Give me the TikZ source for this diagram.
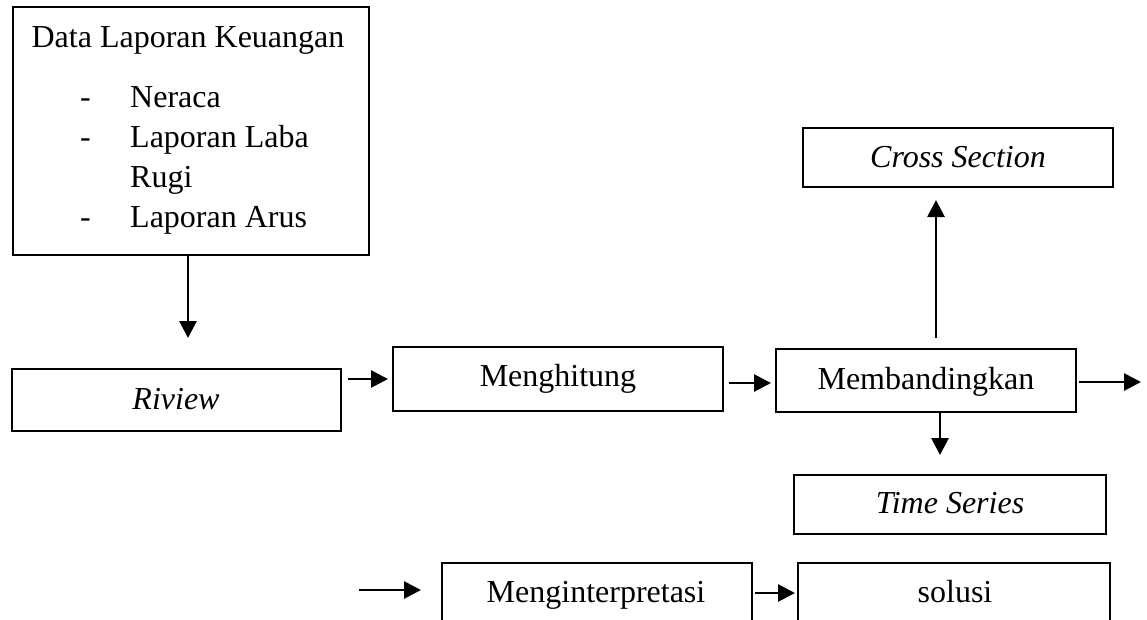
\documentclass[tikz,border=0pt]{standalone}
\usepackage{fontspec}
\setmainfont{Liberation Serif}
\usetikzlibrary{arrows.meta}
\tikzset{
  box/.style={draw, line width=2.2pt, rectangle, inner sep=0pt, outer sep=0pt},
  txt/.style={anchor=base, inner sep=0pt, font=\fontsize{32pt}{36pt}\selectfont},
  itxt/.style={txt, font=\fontsize{32pt}{36pt}\selectfont\itshape},
  ltxt/.style={txt, anchor=base west},
  arr/.style={line width=2.8pt, -{Triangle[length=17pt,width=17pt]}},
}
\begin{document}
\begin{tikzpicture}[x=1pt,y=-1pt]
\useasboundingbox (0,0) rectangle (1147,619);
\clip (0,0) rectangle (1147,619);
% top box
\node[box, minimum width=356pt, minimum height=248pt] (data) at (191,131) {};
\node[txt] (datatitle) at (188,47) {Data Laporan Keuangan};
\node[ltxt] (d1) at (80,107.5) {-};
\node[ltxt] (i1) at (130,107.5) {Neraca};
\node[ltxt] (d2) at (80,147) {-};
\node[ltxt] (i2) at (130,147) {Laporan Laba};
\node[ltxt] (i2b) at (130,187) {Rugi};
\node[ltxt] (d3) at (80,227) {-};
\node[ltxt] (i3) at (130,227) {Laporan Arus};
% boxes
\node[box, minimum width=329pt, minimum height=62pt] (riview) at (176.5,400) {};
\node[itxt] (riviewt) at (176,409) {Riview};
\node[box, minimum width=330pt, minimum height=64pt] (menghitung) at (558,379) {};
\node[txt] (menghitungt) at (558,386) {Menghitung};
\node[box, minimum width=300pt, minimum height=63pt] (membandingkan) at (926,380.5) {};
\node[txt] (membandingkant) at (926,389) {Membandingkan};
\node[box, minimum width=310pt, minimum height=59pt] (cross) at (958,157.5) {};
\node[itxt] (crosst) at (958,167) {Cross Section};
\node[box, minimum width=312pt, minimum height=59pt] (time) at (950,504.5) {};
\node[itxt] (timet) at (950,513) {Time Series};
\node[box, minimum width=310pt, minimum height=140pt] (interp) at (597,633) {};
\node[txt] (interpt) at (596,602) {Menginterpretasi};
\node[box, minimum width=312pt, minimum height=140pt] (solusi) at (954,633) {};
\node[txt] (solusit) at (955,602) {solusi};
% coordinates for free ends
\coordinate (dataend) at (188,338);
\coordinate (y383) at (0,383);
\coordinate (outend) at (1141,382);
\coordinate (tsend) at (940,455);
\coordinate (csend) at (936,200);
\coordinate (csstart) at (936,338);
\coordinate (bstart) at (359,590);
\coordinate (y593) at (0,593);
% connectors
\draw[arr] (dataend |- data.south) -- (dataend);
\draw[arr, shorten <=7pt, shorten >=5pt] (riview.east |- menghitung.west) -- (menghitung.west);
\draw[arr, shorten <=6pt, shorten >=5pt] (menghitung.east |- y383) -- (membandingkan.west |- y383);
\draw[arr, shorten <=3pt] (membandingkan.east |- outend) -- (outend);
\draw[arr] (tsend |- membandingkan.south) -- (tsend);
\draw[arr] (csstart) -- (csend);
\draw[arr, shorten >=21pt] (bstart) -- (interp.west |- bstart);
\draw[arr, shorten <=3pt, shorten >=3pt] (interp.east |- y593) -- (solusi.west |- y593);
\end{tikzpicture}
\end{document}
